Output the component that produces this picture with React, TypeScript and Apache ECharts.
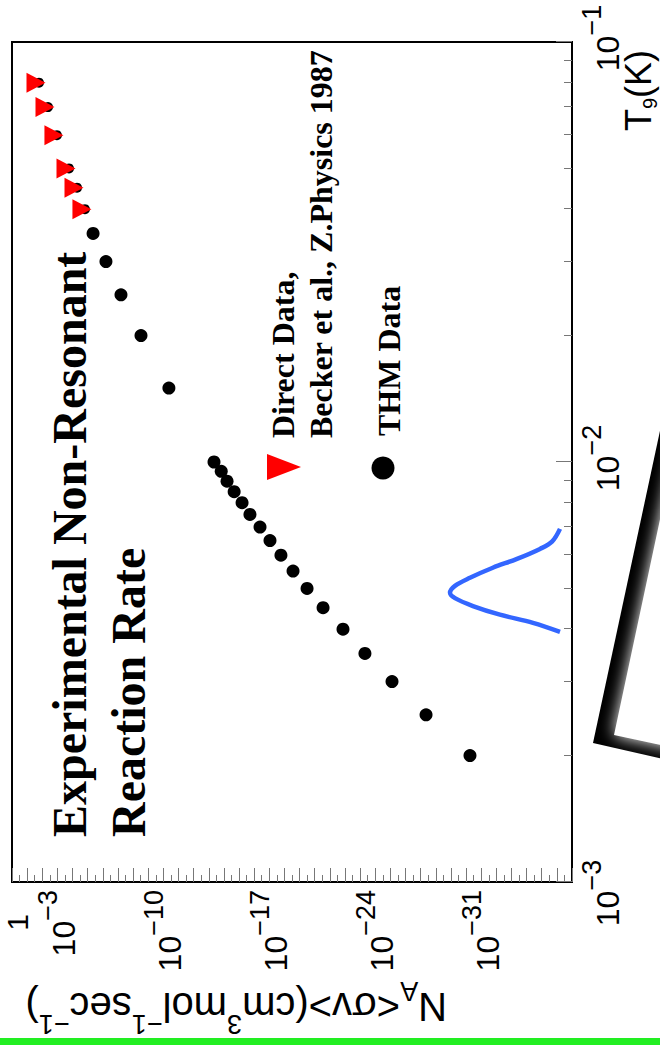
import React, { useEffect, useRef } from "react";
import * as echarts from "echarts";

// ---- data ----
const directT9 = [0.08, 0.07, 0.06, 0.05, 0.045, 0.04];
const directRate = [2.6e-2, 6.6e-3, 1.7e-3, 2.7e-4, 8.0e-5, 2.4e-5];

const thmT9 = [
  0.035, 0.03, 0.025, 0.02, 0.015, 0.01, 0.0095, 0.009, 0.0085, 0.008, 0.0075,
  0.007, 0.0065, 0.006, 0.0055, 0.005, 0.0045, 0.004, 0.0035, 0.003, 0.0025, 0.002,
];
const thmRate = [
  4.4e-6, 6.2e-7, 6.3e-8, 3.0e-9, 4.3e-11, 4.5e-14, 1.5e-14, 6.2e-15, 2.1e-15,
  6.3e-16, 1.9e-16, 4.1e-17, 9e-18, 1.7e-18, 2.7e-19, 3.2e-20, 2.8e-21, 1.35e-22,
  4.8e-24, 7.8e-26, 4.4e-28, 5.5e-31,
];

const gamowT9 = [
  0.00693, 0.00646, 0.00621, 0.00588, 0.0056, 0.0053, 0.00507, 0.00488, 0.00474,
  0.00454, 0.00433, 0.00414, 0.00394,
];
const gamowRate = [
  6.2e-37, 2.1e-36, 1.3e-35, 4.3e-34, 1.7e-32, 5.5e-31, 5.4e-30, 1.15e-29, 5.4e-30,
  3.5e-31, 5.8e-33, 3.8e-35, 6.2e-37,
];

const xLabelValues = [1e-3, 1e-2, 1e-1];
const yLabelValues = [1, 1e-3, 1e-10, 1e-17, 1e-24, 1e-31];
const titleLines = ["Experimental Non-Resonant", "Reaction Rate"];
const legendLabels = ["Direct Data,", "Becker et al., Z.Physics 1987", "THM Data"];

const X_MIN = 1e-3;
const X_MAX = 1e-1;
const Y_MIN = 1e-37;
const Y_MAX = 1;

const SANS = "'Liberation Sans', Arial, Helvetica, sans-serif";
const SERIF = "'Liberation Serif', 'Times New Roman', serif";

// tick positions
const xMajor: number[] = [1e-3, 1e-2, 1e-1];
const xMinor: number[] = [];
[1e-3, 1e-2].forEach((d) => {
  for (let k = 2; k <= 9; k++) xMinor.push(+(k * d).toPrecision(3));
});
const yMajor: number[] = [];
const yMinor: number[] = [];
for (let e = 0; e >= -37; e--) {
  yMajor.push(Math.pow(10, e));
  if (e > -37) yMinor.push(Math.pow(10, e - 0.5));
}

const expLabel = (v: number, isX: boolean) => {
  const e = Math.round(Math.log10(v));
  if (e === 0) return "{one|1}";
  const sup = isX && e === -3 ? "s3" : "s";
  return `{b|10}{${sup}|${e < 0 ? "\u2212" : ""}${Math.abs(e)}}`;
};

const axisRich: any = {
  b: { fontSize: 32, fontFamily: SANS, color: "#000", verticalAlign: "bottom", lineHeight: 28 },
  s: { fontSize: 27, fontFamily: SANS, color: "#000", verticalAlign: "top", lineHeight: 46 },
  s3: { fontSize: 27, fontFamily: SANS, color: "#000", verticalAlign: "top", lineHeight: 46, padding: [0, 30, 0, 0] },
  one: { fontSize: 30, fontFamily: SANS, color: "#000", lineHeight: 30, padding: [10, 24, 0, 0] },
};

const tickStyle = { color: "#777", width: 1 };

function buildOption(): any {
  const wedgeOuter = [
    [302, 593],
    [698, 678],
    [676, 775],
    [280, 690],
  ];
  const wedgeInner = [
    [310, 614],
    [708, 699],
    [686, 800],
    [289, 712],
  ];
  return {
    animation: false,
    backgroundColor: "#ffffff",
    grid: {
      left: 163,
      right: 42,
      top: 12,
      bottom: 88,
      show: true,
      borderColor: "#000",
      borderWidth: 2,
      backgroundColor: "transparent",
      containLabel: false,
      outerBoundsMode: "none",
    },
    xAxis: [
      {
        type: "log",
        logBase: 10,
        min: X_MIN,
        max: X_MAX,
        position: "bottom",
        axisLine: { show: false },
        splitLine: { show: false },
        axisTick: { show: true, inside: true, length: 16, customValues: xMajor, lineStyle: tickStyle },
        axisLabel: {
          show: true,
          customValues: xLabelValues,
          formatter: (v: number) => expLabel(v, true),
          rich: axisRich,
          margin: 6,
          padding: [0, 0, 0, 8],
        },
      },
      {
        type: "log",
        logBase: 10,
        min: X_MIN,
        max: X_MAX,
        position: "bottom",
        axisLine: { show: false },
        splitLine: { show: false },
        axisTick: { show: true, inside: true, length: 8, customValues: xMinor, lineStyle: tickStyle },
        axisLabel: { show: false },
      },
    ],
    yAxis: [
      {
        type: "log",
        logBase: 10,
        min: Y_MIN,
        max: Y_MAX,
        position: "left",
        axisLine: { show: false },
        splitLine: { show: false },
        axisTick: { show: true, inside: true, length: 14, customValues: yMajor, lineStyle: tickStyle },
        axisLabel: {
          show: true,
          customValues: yLabelValues,
          formatter: (v: number) => expLabel(v, false),
          rich: axisRich,
          margin: 8,
        },
      },
      {
        type: "log",
        logBase: 10,
        min: Y_MIN,
        max: Y_MAX,
        position: "left",
        axisLine: { show: false },
        splitLine: { show: false },
        axisTick: { show: true, inside: true, length: 7, customValues: yMinor, lineStyle: tickStyle },
        axisLabel: { show: false },
      },
    ],
    series: [
      {
        type: "line",
        name: "Gamow",
        xAxisIndex: 0,
        yAxisIndex: 0,
        data: gamowT9.map((t, i) => [t, gamowRate[i]]),
        smooth: 0.35,
        symbol: "none",
        showSymbol: false,
        lineStyle: { color: "#3366ff", width: 4.5 },
        z: 2,
      },
      {
        type: "scatter",
        name: "DirectShade",
        xAxisIndex: 0,
        yAxisIndex: 0,
        data: directT9.map((t, i) => [t, directRate[i]]),
        symbol: "circle",
        symbolSize: 10,
        symbolOffset: [0, 3],
        itemStyle: { color: "#000", opacity: 1 },
        z: 3,
      },
      {
        type: "scatter",
        name: "Direct Data",
        xAxisIndex: 0,
        yAxisIndex: 0,
        data: directT9.map((t, i) => [t, directRate[i]]),
        symbol: "triangle",
        symbolRotate: 180,
        symbolSize: [20, 19],
        itemStyle: { color: "#ff0000", opacity: 1 },
        z: 4,
      },
      {
        type: "scatter",
        name: "THM Data",
        xAxisIndex: 0,
        yAxisIndex: 0,
        data: thmT9.map((t, i) => [t, thmRate[i]]),
        symbol: "circle",
        symbolSize: 13,
        itemStyle: { color: "#000", opacity: 1 },
        z: 4,
      },
    ],
    graphic: {
      elements: [
        { type: "rect", shape: { x: 0, y: 0, width: 7, height: 660 }, style: { fill: "#22ee22" } },
        { type: "polygon", shape: { points: wedgeOuter }, style: { fill: "#000" } },
        {
          type: "polygon",
          shape: { points: wedgeInner },
          style: { fill: "#ffffff", shadowBlur: 16, shadowColor: "#ffffff" },
        },
        {
          type: "text",
          x: 208,
          y: 69,
          style: {
            text: titleLines[0],
            fontFamily: SERIF,
            fontWeight: "bold",
            fontSize: 48,
            fill: "#000",
            align: "left",
            verticalAlign: "middle",
          },
        },
        {
          type: "text",
          x: 208,
          y: 128,
          style: {
            text: titleLines[1],
            fontFamily: SERIF,
            fontWeight: "bold",
            fontSize: 48,
            fill: "#000",
            align: "left",
            verticalAlign: "middle",
          },
        },
        { type: "polygon", shape: { points: [[565, 267], [591, 267], [578, 301]] }, style: { fill: "#ff0000" } },
        { type: "circle", shape: { cx: 577, cy: 383, r: 11.5 }, style: { fill: "#000" } },
        {
          type: "text",
          x: 607,
          y: 283,
          style: { text: legendLabels[0], fontFamily: SERIF, fontWeight: "bold", fontSize: 32, fill: "#000", align: "left", verticalAlign: "middle" },
        },
        {
          type: "text",
          x: 607,
          y: 321,
          style: { text: legendLabels[1], fontFamily: SERIF, fontWeight: "bold", fontSize: 32, fill: "#000", align: "left", verticalAlign: "middle" },
        },
        {
          type: "text",
          x: 609,
          y: 389,
          style: { text: legendLabels[2], fontFamily: SERIF, fontWeight: "bold", fontSize: 32, fill: "#000", align: "left", verticalAlign: "middle" },
        },
        {
          type: "text",
          x: 995,
          y: 638,
          style: {
            text: "{t|T}{s|9}{t|(K)}",
            align: "right",
            verticalAlign: "middle",
            rich: {
              t: { fontSize: 36, fontFamily: SANS, fill: "#000", color: "#000", lineHeight: 44, verticalAlign: "middle" },
              s: { fontSize: 20, fontFamily: SANS, fill: "#000", color: "#000", lineHeight: 22, verticalAlign: "bottom" },
            },
          },
        },
        {
          type: "text",
          x: 38,
          y: 447,
          rotation: Math.PI / 2,
          style: {
            text: "{n|N}{sub|A}{n|<\u03c3v>(cm}{sup|3}{n|mol}{sup|\u22121}{n|sec}{sup|\u22121}{n|)}",
            align: "left",
            verticalAlign: "middle",
            rich: {
              n: { fontSize: 40, fontFamily: SANS, fill: "#000", color: "#000", lineHeight: 60, verticalAlign: "middle" },
              sub: { fontSize: 27, fontFamily: SANS, fill: "#000", color: "#000", lineHeight: 34, verticalAlign: "bottom" },
              sup: { fontSize: 27, fontFamily: SANS, fill: "#000", color: "#000", lineHeight: 26, verticalAlign: "top" },
            },
          },
        },
      ],
    },
  };
}

export default function App() {
  const ref = useRef<HTMLDivElement>(null);
  useEffect(() => {
    if (!ref.current) return;
    const chart = echarts.init(ref.current, null, { renderer: "svg" });
    chart.setOption(buildOption());
    return () => chart.dispose();
  }, []);
  return (
    <div
      style={{
        position: "fixed",
        left: 0,
        top: 0,
        width: 660,
        height: 1045,
        overflow: "hidden",
        background: "#fff",
      }}
    >
      <div
        ref={ref}
        style={{
          position: "absolute",
          left: 0,
          top: 0,
          width: 1045,
          height: 660,
          transformOrigin: "0 0",
          transform: "translateY(1045px) rotate(-90deg)",
        }}
      />
    </div>
  );
}
